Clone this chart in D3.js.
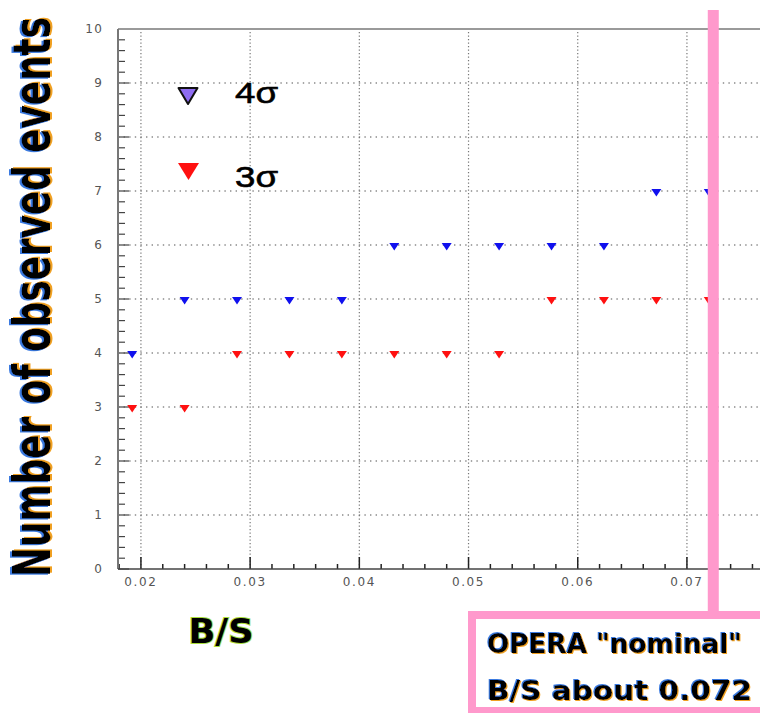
<!DOCTYPE html>
<html>
<head>
<meta charset="utf-8">
<script src="https://cdn.jsdelivr.net/npm/d3@7"></script>
<style>
  html, body { margin: 0; padding: 0; background: #fff; }
  svg { display: block; }
</style>
</head>
<body>
<div id="chart"></div>
<script>
// Background-to-signal ratio scanned along the x axis
const bsValues = [0.0192, 0.024, 0.0288, 0.0336, 0.0384, 0.0432, 0.048, 0.0528, 0.0576, 0.0624, 0.0672, 0.072];
// Events needed for a 4 sigma observation
const events4sigma = [4, 5, 5, 5, 5, 6, 6, 6, 6, 6, 7, 7];
// Events needed for a 3 sigma observation
const events3sigma = [3, 3, 4, 4, 4, 4, 4, 4, 5, 5, 5, 5];
// Axis ticks
const xTickValues = [0.02, 0.03, 0.04, 0.05, 0.06, 0.07];
const xTickLabels = ["0.02", "0.03", "0.04", "0.05", "0.06", "0.07"];
const yTickValues = [0, 1, 2, 3, 4, 5, 6, 7, 8, 9, 10];
const yTickLabels = ["0", "1", "2", "3", "4", "5", "6", "7", "8", "9", "10"];
// Legend
const seriesNames = ["4\u03c3", "3\u03c3"];
// Nominal OPERA working point
const nominalBS = 0.072;
const noteLines = ["OPERA \"nominal\"", "B/S about 0.072"];

const W = 760, H = 713;
const plotLeft = 118, plotTop = 29, plotBottom = 569;

const svg = d3.select("#chart").append("svg")
  .attr("width", W).attr("height", H)
  .attr("viewBox", `0 0 ${W} ${H}`);

const defs = svg.append("defs");
const fringe = defs.append("filter").attr("id", "fringe")
  .attr("x", "-5%").attr("y", "-10%").attr("width", "110%").attr("height", "120%");
fringe.append("feFlood").attr("flood-color", "#f0a020").attr("result", "c1");
fringe.append("feComposite").attr("in", "c1").attr("in2", "SourceAlpha").attr("operator", "in").attr("result", "s1");
fringe.append("feOffset").attr("in", "s1").attr("dx", 1.2).attr("dy", 1.2).attr("result", "o1");
fringe.append("feFlood").attr("flood-color", "#3a7ae0").attr("result", "c2");
fringe.append("feComposite").attr("in", "c2").attr("in2", "SourceAlpha").attr("operator", "in").attr("result", "s2");
fringe.append("feOffset").attr("in", "s2").attr("dx", -1.2).attr("dy", -1.2).attr("result", "o2");
const fm = fringe.append("feMerge");
fm.append("feMergeNode").attr("in", "o1");
fm.append("feMergeNode").attr("in", "o2");
fm.append("feMergeNode").attr("in", "SourceGraphic");

svg.append("rect").attr("width", W).attr("height", H).attr("fill", "#fff");

const x = d3.scaleLinear().domain([0.0179, 0.08]).range([plotLeft, plotLeft + 0.0621 * 10920]);
const y = d3.scaleLinear().domain([0, 10]).range([plotBottom, plotTop]);

// Grid
const grid = svg.append("g");
grid.append("g").selectAll("line").data(yTickValues.slice(1, -1)).join("line")
  .attr("x1", plotLeft).attr("x2", W)
  .attr("y1", d => y(d)).attr("y2", d => y(d))
  .attr("stroke", "#8a8a8a").attr("stroke-width", 1.4)
  .attr("stroke-dasharray", "1.4,4.2");
grid.append("g").selectAll("line").data(xTickValues).join("line")
  .attr("x1", d => x(d)).attr("x2", d => x(d))
  .attr("y1", plotTop + 3).attr("y2", plotBottom)
  .attr("stroke", "#777").attr("stroke-width", 1.2)
  .attr("stroke-dasharray", "1.2,2.3");

// Minor and major ticks
const xMinor = d3.range(0.018, 0.0801, 0.002);
svg.append("g").selectAll("line").data(xMinor).join("line")
  .attr("x1", d => x(d)).attr("x2", d => x(d))
  .attr("y1", plotBottom).attr("y2", d => {
    const major = Math.abs(Math.round(d * 100) - d * 100) < 1e-6;
    return plotBottom - (major ? 12 : 5);
  })
  .attr("stroke", "#222").attr("stroke-width", 1.5);

const yMinor = d3.range(0, 10.01, 0.2);
svg.append("g").selectAll("line").data(yMinor).join("line")
  .attr("x1", plotLeft).attr("x2", d => {
    const major = Math.abs(Math.round(d) - d) < 1e-6;
    return plotLeft + (major ? 11 : 7);
  })
  .attr("y1", d => y(d)).attr("y2", d => y(d))
  .attr("stroke", "#444").attr("stroke-width", 1.2);

// Frame
svg.append("line").attr("x1", plotLeft).attr("x2", W).attr("y1", plotTop).attr("y2", plotTop)
  .attr("stroke", "#9a9a9a").attr("stroke-width", 2);
svg.append("line").attr("x1", plotLeft).attr("x2", plotLeft).attr("y1", plotTop).attr("y2", plotBottom)
  .attr("stroke", "#777").attr("stroke-width", 2);
svg.append("line").attr("x1", plotLeft).attr("x2", W).attr("y1", plotBottom).attr("y2", plotBottom)
  .attr("stroke", "#444").attr("stroke-width", 1.6);

// Tick labels
svg.append("g").selectAll("text").data(xTickValues).join("text")
  .attr("x", d => x(d)).attr("y", plotBottom + 17)
  .attr("text-anchor", "middle")
  .attr("font-family", "DejaVu Sans, sans-serif").attr("font-size", 12)
  .attr("letter-spacing", 1.6)
  .attr("fill", "#555")
  .text((d, i) => xTickLabels[i]);
svg.append("g").selectAll("text").data(yTickValues).join("text")
  .attr("x", 103).attr("y", d => y(d) + 4)
  .attr("text-anchor", "end")
  .attr("font-family", "DejaVu Sans, sans-serif").attr("font-size", 12)
  .attr("letter-spacing", 1.2)
  .attr("fill", "#555")
  .text((d, i) => yTickLabels[i]);

// Downward triangle markers
const tri = (cx, cy, w, up, down) =>
  `M${cx - w / 2},${cy - up}L${cx + w / 2},${cy - up}L${cx},${cy + down}Z`;

const pts4 = bsValues.map((b, i) => ({ b, n: events4sigma[i] }));
const pts3 = bsValues.map((b, i) => ({ b, n: events3sigma[i] }));

svg.append("g").selectAll("path").data(pts4).join("path")
  .attr("d", d => tri(x(d.b), y(d.n), 10, 2, 5.5))
  .attr("fill", "#1010ee");
svg.append("g").selectAll("path").data(pts3).join("path")
  .attr("d", d => tri(x(d.b), y(d.n), 10, 2, 5.5))
  .attr("fill", "#ff1010");

// Legend
const legend = svg.append("g");
legend.append("path").attr("d", tri(188, 88, 19, 0, 16))
  .attr("fill", "#8f6df2").attr("stroke", "#111").attr("stroke-width", 2).attr("stroke-linejoin", "round");
legend.append("path").attr("d", tri(188.5, 163, 21, 0, 17))
  .attr("fill", "#ff1010");
legend.selectAll("text").data(seriesNames).join("text")
  .attr("x", 235).attr("y", (d, i) => i === 0 ? 103 : 187)
  .attr("font-family", "Liberation Sans, Arial, sans-serif").attr("font-size", 30)
  .attr("textLength", 43).attr("lengthAdjust", "spacingAndGlyphs")
  .attr("fill", "#000").attr("stroke", "#000").attr("stroke-width", 0.6)
  .text(d => d);

// Axis titles (the vertical one is stretched across the glyph height)
svg.append("text")
  .attr("transform", "translate(50,297) rotate(-90) scale(1,1.42)")
  .attr("text-anchor", "middle")
  .attr("font-family", "DejaVu Sans, sans-serif").attr("font-weight", "bold")
  .attr("font-size", 35.8)
  .attr("textLength", 560).attr("lengthAdjust", "spacingAndGlyphs")
  .attr("fill", "#000")
  .attr("filter", "url(#fringe)")
  .text("Number of observed events");

svg.append("text")
  .attr("x", 221).attr("y", 643)
  .attr("text-anchor", "middle")
  .attr("font-family", "DejaVu Sans, sans-serif").attr("font-weight", "bold")
  .attr("font-size", 34)
  .attr("textLength", 65).attr("lengthAdjust", "spacingAndGlyphs")
  .attr("fill", "#000").attr("stroke", "#a8dc3a").attr("stroke-width", 2)
  .attr("paint-order", "stroke")
  .text("B/S");

// Nominal working-point marker and note
const pink = "#ff99cc";
svg.append("rect")
  .attr("x", x(nominalBS) - 1).attr("y", 10)
  .attr("width", 11).attr("height", 605)
  .attr("fill", pink);
svg.append("rect")
  .attr("x", 472).attr("y", 615)
  .attr("width", 320).attr("height", 96)
  .attr("fill", "#fff").attr("stroke", pink).attr("stroke-width", 8);
svg.append("g").selectAll("text").data(noteLines).join("text")
  .attr("x", 487).attr("y", (d, i) => i === 0 ? 653 : 700)
  .attr("font-family", "DejaVu Sans, sans-serif").attr("font-weight", "bold")
  .attr("font-size", 27)
  .attr("textLength", (d, i) => i === 0 ? 255 : 265)
  .attr("lengthAdjust", "spacingAndGlyphs")
  .attr("fill", "#000")
  .attr("filter", "url(#fringe)")
  .text(d => d);
</script>
</body>
</html>
